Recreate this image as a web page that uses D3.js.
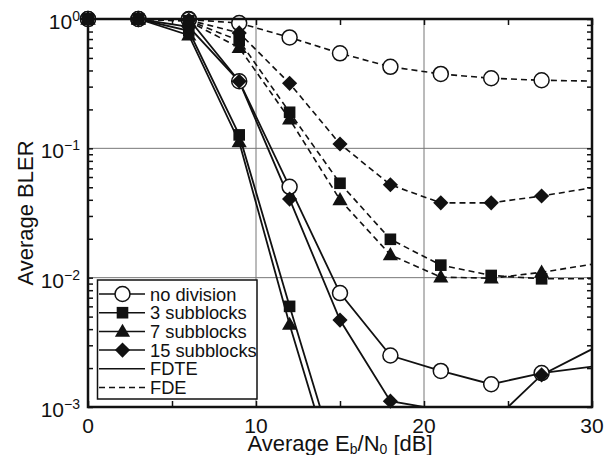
<html>
<meta charset='utf-8'>
<head>
    <script src="https://d3js.org/d3.v7.min.js"></script>
    <style>
      body { margin: 0; background: #fff; }
      text { font-family: "Liberation Sans", Arial, Helvetica, sans-serif; fill: #111; }
    </style>
</head>
<body>
<div id='viz'></div>
<script>
    // Eb/N0 points (dB)
    let snr = [0, 3, 6, 9, 12, 15, 18, 21, 24, 27, 30];

    // FDTE (solid)
    let fdteNoDiv = [1, 1, 1, 0.33, 0.0504, 0.0076, 0.0025, 0.0019, 0.0015, 0.00183, 0.00205];
    let fdte3 = [1, 1, 0.81, 0.127, 0.006, 0.00031];
    let fdte7 = [1, 1, 0.75, 0.112, 0.00435, 0.00022];
    let fdte15 = [1, 1, 0.87, 0.33, 0.0405, 0.0047, 0.00111, 0.00095, 0.00075, 0.00177, 0.0028];

    // FDE (dashed)
    let fdeNoDiv = [1, 1, 0.99, 0.93, 0.72, 0.543, 0.427, 0.376, 0.348, 0.336, 0.331];
    let fde3 = [1, 1, 0.97, 0.68, 0.19, 0.0537, 0.0198, 0.0125, 0.0104, 0.0098, 0.0098];
    let fde7 = [1, 1, 0.96, 0.6, 0.168, 0.040, 0.0150, 0.0101, 0.0099, 0.0110, 0.0127];
    let fde15 = [1, 1, 0.98, 0.78, 0.318, 0.108, 0.0523, 0.0379, 0.0379, 0.0428, 0.0496];

    let xTicks = [0, 10, 20, 30];
    let yDecades = [1, 0.1, 0.01, 0.001];
    let yExp = ['0', '\u22121', '\u22122', '\u22123'];
    let legendNames = ['no division', '3 subblocks', '7 subblocks', '15 subblocks', 'FDTE', 'FDE'];

    let series = [
      {vals: fdteNoDiv, shape: 'circle', dash: null},
      {vals: fdeNoDiv, shape: 'circle', dash: '6,4'},
      {vals: fdte3, shape: 'square', dash: null},
      {vals: fde3, shape: 'square', dash: '6,4'},
      {vals: fdte7, shape: 'triangle', dash: null},
      {vals: fde7, shape: 'triangle', dash: '6,4'},
      {vals: fdte15, shape: 'diamond', dash: null},
      {vals: fde15, shape: 'diamond', dash: '6,4'}
    ];

    let W = 615, H = 455;
    let svg = d3.select('#viz').append('svg').attr('width', W).attr('height', H);

    let x = d3.scaleLinear().domain([0, 30]).range([88, 592]);
    let y = d3.scaleLog().domain([0.001, 1]).range([407, 19]);

    svg.append('clipPath').attr('id', 'plot-clip')
       .append('rect').attr('x', 88).attr('y', 19).attr('width', 504).attr('height', 388);

    // grid
    svg.selectAll('.gx').data([10, 20]).enter().append('line')
       .attr('x1', d => x(d)).attr('x2', d => x(d)).attr('y1', 19).attr('y2', 407)
       .attr('stroke', '#777').attr('stroke-width', 1);
    svg.selectAll('.gy').data([0.1, 0.01]).enter().append('line')
       .attr('y1', d => y(d)).attr('y2', d => y(d)).attr('x1', 88).attr('x2', 592)
       .attr('stroke', '#777').attr('stroke-width', 1);

    // inward ticks
    let tickStyle = g => { g.select('.domain').remove(); g.selectAll('line').attr('stroke', '#111').attr('stroke-width', 1.5); g.selectAll('text').remove(); };
    svg.append('g').attr('transform', 'translate(88,0)').call(d3.axisLeft(y).tickSize(-5)).call(tickStyle);
    svg.append('g').attr('transform', 'translate(592,0)').call(d3.axisRight(y).tickSize(-5)).call(tickStyle);
    let xt = d3.range(0, 31, 5);
    svg.append('g').attr('transform', 'translate(0,407)').call(d3.axisBottom(x).tickValues(xt).tickSize(-6)).call(tickStyle);
    svg.append('g').attr('transform', 'translate(0,19)').call(d3.axisTop(x).tickValues(xt).tickSize(-6)).call(tickStyle);

    // lines
    let line = d3.line().x((d, i) => x(snr[i])).y(d => y(d));
    let lg = svg.append('g').attr('clip-path', 'url(#plot-clip)');
    series.forEach(s => {
      lg.append('path').datum(s.vals).attr('d', line)
        .attr('fill', 'none').attr('stroke', '#111')
        .attr('stroke-width', s.dash ? 1.6 : 1.8)
        .attr('stroke-dasharray', s.dash);
    });

    function drawMarker(g, shape, cx, cy) {
      if (shape === 'circle') {
        g.append('circle').attr('cx', cx).attr('cy', cy).attr('r', 7.5)
         .attr('fill', '#fff').attr('stroke', '#111').attr('stroke-width', 1.5);
      } else {
        let sym = {square: d3.symbolSquare, triangle: d3.symbolTriangle, diamond: d3.symbolSquare}[shape];
        let size = {square: 135, triangle: 100, diamond: 115}[shape];
        let rot = shape === 'diamond' ? 45 : 0;
        let dy = shape === 'triangle' ? 1 : 0;
        g.append('path').attr('d', d3.symbol().type(sym).size(size)())
         .attr('transform', `translate(${cx},${cy + dy}) rotate(${rot})`)
         .attr('fill', '#111');
      }
    }

    // markers (not at the right border)
    let mg = svg.append('g');
    ['circle', 'square', 'triangle', 'diamond'].forEach(shape => {
      series.filter(s => s.shape === shape).forEach(s => {
        s.vals.forEach((v, i) => {
          if (snr[i] < 30 && v >= 0.001) drawMarker(mg, shape, x(snr[i]), y(v));
        });
      });
    });

    // frame
    svg.append('rect').attr('x', 88).attr('y', 19).attr('width', 504).attr('height', 388)
       .attr('fill', 'none').attr('stroke', '#111').attr('stroke-width', 2.5);

    // tick labels
    svg.selectAll('.xl').data(xTicks).enter().append('text')
       .attr('x', d => x(d)).attr('y', 433).attr('text-anchor', 'middle')
       .attr('font-size', 21).text(d => d);
    yDecades.forEach((d, i) => {
      let t = svg.append('text').attr('x', 80).attr('y', y(d) + 10).attr('text-anchor', 'end').attr('font-size', 21);
      t.append('tspan').text('10');
      t.append('tspan').attr('font-size', 14).attr('dy', -8).text(yExp[i]);
    });

    // axis titles
    let xl = svg.append('text').attr('x', 340).attr('y', 451).attr('text-anchor', 'middle').attr('font-size', 22);
    xl.append('tspan').text('Average E');
    xl.append('tspan').attr('font-size', 14).attr('dy', 3).text('b');
    xl.append('tspan').attr('dy', -3).text('/N');
    xl.append('tspan').attr('font-size', 14).attr('dy', 3).text('0');
    xl.append('tspan').attr('dy', -3).text(' [dB]');

    svg.append('text').attr('transform', 'translate(33,213) rotate(-90)')
       .attr('text-anchor', 'middle').attr('font-size', 22).text('Average BLER');

    // legend
    let leg = svg.append('g');
    leg.append('rect').attr('x', 97.5).attr('y', 280).attr('width', 159.5).attr('height', 119)
       .attr('fill', '#fff').attr('stroke', '#111').attr('stroke-width', 1.5);
    let legShapes = ['circle', 'square', 'triangle', 'diamond', null, null];
    legendNames.forEach((name, i) => {
      let cy = 294 + i * 18.7;
      leg.append('line').attr('x1', 99).attr('x2', 145).attr('y1', cy).attr('y2', cy)
         .attr('stroke', '#111').attr('stroke-width', 1.5)
         .attr('stroke-dasharray', name === 'FDE' ? '6,4' : null);
      if (legShapes[i]) drawMarker(leg, legShapes[i], 122.5, cy);
      leg.append('text').attr('x', 150).attr('y', cy + 6.5).attr('font-size', 18.3).text(name);
    });
</script>
</body>
</html>
